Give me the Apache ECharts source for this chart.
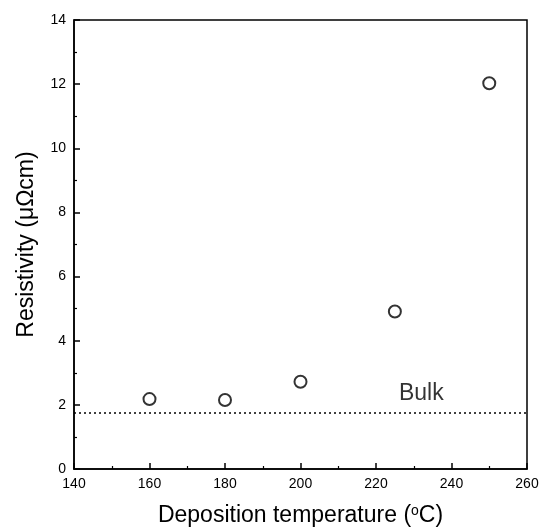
<!DOCTYPE html>
<html>
<head>
<meta charset="utf-8">
<script src="https://cdn.jsdelivr.net/npm/echarts@6/dist/echarts.min.js"></script>
<style>
  html, body { margin: 0; padding: 0; background: #fff; }
  #chart { width: 545px; height: 532px; }
</style>
</head>
<body>
<div id="chart"></div>
<script>
// 数据
const temperatures = [160, 180, 200, 225, 250];
const resistivity = [2.18, 2.15, 2.72, 4.91, 12.03];
const bulkValue = 1.75;
const bulkLabel = 'Bulk';
const bulkLabelAt = [232, 2.35];

const chart = echarts.init(document.getElementById('chart'));
const font = 'Liberation Sans, Arial, sans-serif';

chart.setOption({
  animation: false,
  backgroundColor: '#fff',
  grid: {
    left: 74, right: 18, top: 20, bottom: 62,
    show: true,
    borderColor: '#000',
    borderWidth: 1.5
  },
  xAxis: {
    type: 'value',
    min: 140, max: 260, interval: 20,
    name: '{a|Deposition temperature (}{sup|o}{a|C)}',
    nameLocation: 'middle',
    nameGap: 35,
    nameTextStyle: {
      rich: {
        a: { fontFamily: font, fontSize: 23, color: '#000' },
        sup: { fontFamily: font, fontSize: 14, color: '#000', verticalAlign: 'top', padding: [0, 0, 9, 0] }
      }
    },
    axisLine: { lineStyle: { color: '#000', width: 1.5 } },
    axisTick: { inside: true, length: 6, lineStyle: { color: '#000', width: 1.5 } },
    minorTick: { show: true, splitNumber: 2, length: 3, lineStyle: { color: '#000', width: 1.2 } },
    axisLabel: { fontFamily: font, fontSize: 14, color: '#000', margin: 8 },
    splitLine: { show: false }
  },
  yAxis: {
    type: 'value',
    min: 0, max: 14, interval: 2,
    name: 'Resistivity (μΩcm)',
    nameLocation: 'middle',
    nameGap: 36,
    nameTextStyle: { fontFamily: font, fontSize: 23, color: '#000' },
    axisLine: { lineStyle: { color: '#000', width: 1.5 } },
    axisTick: { inside: true, length: 6, lineStyle: { color: '#000', width: 1.5 } },
    minorTick: { show: true, splitNumber: 2, length: 3, lineStyle: { color: '#000', width: 1.2 } },
    axisLabel: { fontFamily: font, fontSize: 14, color: '#000', margin: 8 },
    splitLine: { show: false }
  },
  series: [
    {
      type: 'scatter',
      data: temperatures.map((t, i) => [t, resistivity[i]]),
      symbol: 'circle',
      symbolSize: 12,
      itemStyle: { color: '#fff', borderColor: '#000', borderWidth: 2 },
      markLine: {
        silent: true,
        symbol: 'none',
        label: { show: false },
        lineStyle: { color: '#000', type: [2, 3], width: 1.5 },
        data: [{ yAxis: bulkValue }]
      }
    },
    {
      type: 'scatter',
      data: [bulkLabelAt],
      symbolSize: 0,
      silent: true,
      label: {
        show: true,
        position: 'inside',
        formatter: bulkLabel,
        fontFamily: font,
        fontSize: 23,
        color: '#000'
      }
    }
  ]
});
</script>
</body>
</html>
